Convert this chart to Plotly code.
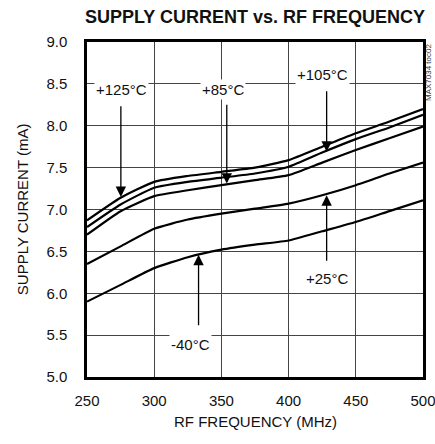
import plotly.graph_objects as go

freq = [250, 275, 300, 325, 350, 375, 400, 425, 450, 475, 500]
i_125 = [6.87, 7.14, 7.33, 7.40, 7.45, 7.50, 7.59, 7.75, 7.91, 8.05, 8.20]
i_105 = [6.79, 7.06, 7.26, 7.33, 7.38, 7.43, 7.51, 7.68, 7.84, 7.98, 8.13]
i_85 = [6.70, 6.98, 7.16, 7.23, 7.29, 7.35, 7.41, 7.56, 7.71, 7.85, 7.99]
i_25 = [6.35, 6.56, 6.77, 6.88, 6.95, 7.01, 7.07, 7.17, 7.29, 7.43, 7.56]
i_m40 = [5.90, 6.10, 6.30, 6.43, 6.52, 6.58, 6.63, 6.74, 6.85, 6.98, 7.11]

x_ticks = [250, 300, 350, 400, 450, 500]
y_ticks = [5.0, 5.5, 6.0, 6.5, 7.0, 7.5, 8.0, 8.5, 9.0]

# label text, label pos, arrow tail, arrow tip
labels = [
    ("+125°C", 275.6, 8.43, 275.2, 8.25, 275.2, 7.15),
    ("+85°C", 351.0, 8.43, 354.0, 8.27, 354.0, 7.31),
    ("+105°C", 425.4, 8.61, 428.3, 8.43, 428.3, 7.69),
    ("+25°C", 428.4, 6.18, 428.3, 6.37, 428.3, 7.17),
    ("-40°C", 326.8, 5.39, 333.0, 5.60, 333.0, 6.46),
]

FONT = "Liberation Sans, Arial, sans-serif"

fig = go.Figure()
for ys in [i_125, i_105, i_85, i_25, i_m40]:
    fig.add_trace(go.Scatter(x=freq, y=ys, mode="lines",
                             line=dict(color="black", width=2.2, shape="spline", smoothing=0.5),
                             showlegend=False, hoverinfo="skip"))

annotations = []
for txt, lx, ly, tx, ty, hx, hy in labels:
    annotations.append(dict(x=hx, y=hy, ax=tx, ay=ty, xref="x", yref="y", axref="x", ayref="y",
                            text="", showarrow=True, arrowhead=2, arrowsize=1.6, arrowwidth=1.3,
                            arrowcolor="black", standoff=0))
    annotations.append(dict(x=lx, y=ly, xref="x", yref="y", text=txt, showarrow=False,
                            bgcolor="white", borderpad=1,
                            font=dict(family=FONT, size=15, color="#111")))

annotations.append(dict(x=1.0, y=1.0, xref="paper", yref="paper", xanchor="center", yanchor="top",
                        xshift=5.5, text="MAX7034 toc02", textangle=-90, showarrow=False,
                        font=dict(family=FONT, size=8, color="#333")))
annotations.append(dict(x=-0.1914, y=0.5, xref="paper", yref="paper", xanchor="center", yanchor="middle",
                        text="SUPPLY CURRENT (mA)", textangle=-90, showarrow=False,
                        font=dict(family=FONT, size=15, color="#111")))
annotations.append(dict(x=0.5, y=-0.134, xref="paper", yref="paper", xanchor="center", yanchor="middle",
                        text="RF FREQUENCY (MHz)", showarrow=False,
                        font=dict(family=FONT, size=15, color="#111")))

fig.update_layout(
    width=435, height=444,
    margin=dict(l=86.5, r=11.5, t=42, b=67),
    paper_bgcolor="white", plot_bgcolor="white",
    title=dict(text="<b>SUPPLY CURRENT vs. RF FREQUENCY</b>", x=255 / 435, xanchor="center",
               y=1 - 17 / 444, yanchor="middle",
               font=dict(family=FONT, size=18, color="#111")),
    font=dict(family=FONT, size=15, color="#111"),
    annotations=annotations,
    xaxis=dict(range=[250, 500], tickvals=x_ticks, ticktext=[str(v) for v in x_ticks],
               showgrid=True, gridcolor="#444", gridwidth=1, zeroline=False, automargin=False,
               showline=True, linecolor="black", linewidth=2.5, mirror=True, ticks="",
               ticklabelstandoff=8, ticklabeloverflow="allow", tickfont=dict(family=FONT, size=15)),
    yaxis=dict(range=[5.0, 9.0], tickvals=y_ticks, ticktext=[f"{v:.1f}" for v in y_ticks],
               showgrid=True, gridcolor="#444", gridwidth=1, zeroline=False, automargin=False,
               showline=True, linecolor="black", linewidth=2.5, mirror=True, ticks="",
               ticklabelstandoff=14, tickfont=dict(family=FONT, size=15)),
)

fig.write_html("out.html", config={"displayModeBar": False},
               post_script="document.body.style.margin='0px';")
